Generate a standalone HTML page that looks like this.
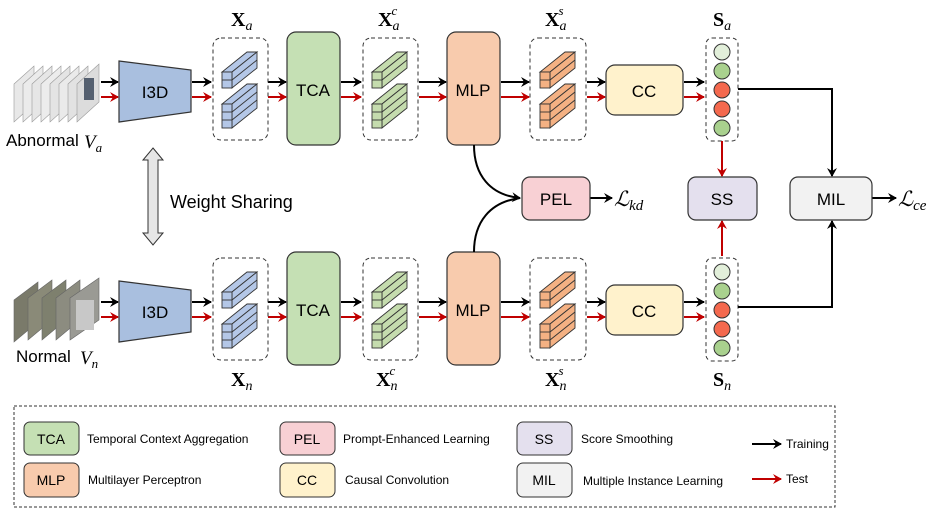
<!DOCTYPE html>
<html><head><meta charset="utf-8"><style>
html,body{margin:0;padding:0;background:#fff}
svg{display:block}
text{font-family:"Liberation Sans","DejaVu Sans",sans-serif}
.m{font-family:"Liberation Serif","DejaVu Serif",serif}
</style></head><body>
<svg width="940" height="515" viewBox="0 0 940 515" xmlns="http://www.w3.org/2000/svg">
<defs>
<marker id="ak" markerWidth="10" markerHeight="10" refX="8" refY="5" orient="auto" markerUnits="userSpaceOnUse"><path d="M0,0 L9,5 L0,10 L3,5 Z" fill="#000"/></marker>
<marker id="ar" markerWidth="10" markerHeight="10" refX="8" refY="5" orient="auto" markerUnits="userSpaceOnUse"><path d="M0,0 L9,5 L0,10 L3,5 Z" fill="#c00000"/></marker>
<g id="bS"><polygon points="0,0 10,0 35,-20 25,-20"/><polygon points="10,0 35,-20 35,-4 10,16"/><rect x="0" y="0" width="10" height="16"/><line x1="0" y1="8" x2="10" y2="8"/><line x1="10" y1="8" x2="35" y2="-12"/></g>
<g id="bL"><polygon points="0,0 10,0 35,-20 25,-20"/><polygon points="10,0 35,-20 35,4 10,24"/><rect x="0" y="0" width="10" height="24"/><line x1="0" y1="8" x2="10" y2="8"/><line x1="0" y1="16" x2="10" y2="16"/><line x1="10" y1="8" x2="35" y2="-12"/><line x1="10" y1="16" x2="35" y2="-4"/></g>
<g id="pair"><use href="#bS" x="0" y="0"/><use href="#bL" x="0" y="32"/></g>
</defs>

<g stroke="#999" stroke-width="0.6">
<polygon points="14,84 34,66 34,104 14,122" fill="#e8e8e8"/>
<polygon points="23,84 43,66 43,104 23,122" fill="#ebebeb"/>
<polygon points="32,84 52,66 52,104 32,122" fill="#e6e6e6"/>
<polygon points="41,84 61,66 61,104 41,122" fill="#ececec"/>
<polygon points="50,84 70,66 70,104 50,122" fill="#e4e4e4"/>
<polygon points="59,84 79,66 79,104 59,122" fill="#eaeaea"/>
<polygon points="68,84 88,66 88,104 68,122" fill="#e2e2e2"/>
<polygon points="77,84 99,64 99,102 77,122" fill="#dcdcdc"/>
<rect x="84" y="78" width="10" height="22" fill="#556070" stroke="none"/>
</g>
<g stroke="#666" stroke-width="0.6">
<polygon points="14,300 38,282 38,322 14,342" fill="#7a7a6a"/>
<polygon points="28,298 52,280 52,320 28,340" fill="#8a8a78"/>
<polygon points="42,298 66,280 66,320 42,340" fill="#7e806e"/>
<polygon points="56,298 80,280 80,320 56,340" fill="#8c8c80"/>
<polygon points="70,298 99,278 99,320 70,340" fill="#9a9a94"/>
<rect x="76" y="300" width="18" height="30" fill="#c8c8c8" stroke="none"/>
</g>
<text x="6" y="146" font-size="17">Abnormal</text><text x="84" y="148" font-size="19" font-style="italic" class="m">V<tspan font-size="13" dy="4">a</tspan></text>
<text x="16" y="362" font-size="17">Normal</text><text x="80" y="364" font-size="19" font-style="italic" class="m">V<tspan font-size="13" dy="4">n</tspan></text>

<polygon points="153,148 163,160 158,160 158,233 163,233 153,245 143,233 148,233 148,160 143,160" fill="#e6e6e6" stroke="#333" stroke-width="1"/>
<text x="170" y="208" font-size="18">Weight Sharing</text>

<g id="row">
<g stroke-width="2" fill="none">
<line x1="101" y1="82" x2="118" y2="82" stroke="#000" marker-end="url(#ak)"/>
<line x1="101" y1="97" x2="118" y2="97" stroke="#c00000" marker-end="url(#ar)"/>
<line x1="192" y1="82" x2="211" y2="82" stroke="#000" marker-end="url(#ak)"/>
<line x1="192" y1="97" x2="211" y2="97" stroke="#c00000" marker-end="url(#ar)"/>
<line x1="268" y1="82" x2="286" y2="82" stroke="#000" marker-end="url(#ak)"/>
<line x1="268" y1="97" x2="286" y2="97" stroke="#c00000" marker-end="url(#ar)"/>
<line x1="341" y1="82" x2="361" y2="82" stroke="#000" marker-end="url(#ak)"/>
<line x1="341" y1="97" x2="361" y2="97" stroke="#c00000" marker-end="url(#ar)"/>
<line x1="419" y1="82" x2="446" y2="82" stroke="#000" marker-end="url(#ak)"/>
<line x1="419" y1="97" x2="446" y2="97" stroke="#c00000" marker-end="url(#ar)"/>
<line x1="501" y1="82" x2="529" y2="82" stroke="#000" marker-end="url(#ak)"/>
<line x1="501" y1="97" x2="529" y2="97" stroke="#c00000" marker-end="url(#ar)"/>
<line x1="587" y1="82" x2="605" y2="82" stroke="#000" marker-end="url(#ak)"/>
<line x1="587" y1="97" x2="605" y2="97" stroke="#c00000" marker-end="url(#ar)"/>
<line x1="684" y1="82" x2="704" y2="82" stroke="#000" marker-end="url(#ak)"/>
<line x1="684" y1="97" x2="704" y2="97" stroke="#c00000" marker-end="url(#ar)"/>
</g>
<polygon points="119,61 191,70 191,112 119,122" fill="#a9bfdf" stroke="#333" stroke-width="1.2"/>
<text x="155" y="98" font-size="17" text-anchor="middle">I3D</text>
<rect x="213" y="38" width="55" height="102" rx="8" fill="none" stroke="#333" stroke-dasharray="4,3"/>
<g fill="#b4c7e7" stroke="#333" stroke-width="0.9"><use href="#pair" x="222" y="72"/></g>
<rect x="287" y="32" width="53" height="113" rx="9" fill="#c5e0b4" stroke="#333" stroke-width="1.2"/>
<text x="313" y="96" font-size="17" text-anchor="middle">TCA</text>
<rect x="363" y="38" width="55" height="102" rx="8" fill="none" stroke="#333" stroke-dasharray="4,3"/>
<g fill="#c5dcae" stroke="#333" stroke-width="0.9"><use href="#pair" x="372" y="72"/></g>
<rect x="447" y="32" width="53" height="113" rx="9" fill="#f8cbad" stroke="#333" stroke-width="1.2"/>
<text x="473" y="96" font-size="17" text-anchor="middle">MLP</text>
<rect x="530" y="38" width="56" height="102" rx="8" fill="none" stroke="#333" stroke-dasharray="4,3"/>
<g fill="#f4b183" stroke="#333" stroke-width="0.9"><use href="#pair" x="540" y="72"/></g>
<rect x="606" y="65" width="77" height="50" rx="9" fill="#fff2cc" stroke="#333" stroke-width="1.2"/>
<text x="644" y="97" font-size="17" text-anchor="middle">CC</text>
<rect x="706" y="38" width="32" height="103" rx="6" fill="none" stroke="#333" stroke-dasharray="4,3"/>
<g stroke="#333" stroke-width="1">
<circle cx="722" cy="52" r="8" fill="#e2efda"/>
<circle cx="722" cy="71" r="8" fill="#a9d18e"/>
<circle cx="722" cy="90" r="8" fill="#f4694e"/>
<circle cx="722" cy="109" r="8" fill="#f4694e"/>
<circle cx="722" cy="128" r="8" fill="#a9d18e"/>
</g>
</g>
<use href="#row" x="0" y="220"/>

<g class="m" font-size="20" font-weight="bold">
<text x="231" y="26" class="m">X<tspan font-size="14" font-style="italic" font-weight="normal" dy="4">a</tspan></text>
<text x="378" y="26" class="m">X<tspan font-size="14" font-style="italic" font-weight="normal" dy="4">a</tspan><tspan font-size="13" font-style="italic" font-weight="normal" dx="-8" dy="-15">c</tspan></text>
<text x="545" y="26" class="m">X<tspan font-size="14" font-style="italic" font-weight="normal" dy="4">a</tspan><tspan font-size="13" font-style="italic" font-weight="normal" dx="-8" dy="-15">s</tspan></text>
<text x="713" y="26" class="m">S<tspan font-size="14" font-style="italic" font-weight="normal" dy="4">a</tspan></text>
<text x="231" y="386" class="m">X<tspan font-size="14" font-style="italic" font-weight="normal" dy="4">n</tspan></text>
<text x="376" y="386" class="m">X<tspan font-size="14" font-style="italic" font-weight="normal" dy="4">n</tspan><tspan font-size="13" font-style="italic" font-weight="normal" dx="-8" dy="-15">c</tspan></text>
<text x="545" y="386" class="m">X<tspan font-size="14" font-style="italic" font-weight="normal" dy="4">n</tspan><tspan font-size="13" font-style="italic" font-weight="normal" dx="-8" dy="-15">s</tspan></text>
<text x="713" y="386" class="m">S<tspan font-size="14" font-style="italic" font-weight="normal" dy="4">n</tspan></text>
</g>

<g fill="none" stroke-width="2">
<path d="M474,145 C474,175 490,195 520,198" stroke="#000" marker-end="url(#ak)"/>
<path d="M474,252 C474,222 490,202 520,198" stroke="#000"/>
<line x1="590" y1="198" x2="612" y2="198" stroke="#000" marker-end="url(#ak)"/>
<line x1="722" y1="141" x2="722" y2="176" stroke="#c00000" marker-end="url(#ar)"/>
<line x1="722" y1="256" x2="722" y2="221" stroke="#c00000" marker-end="url(#ar)"/>
<polyline points="738,89 832,89 832,176" stroke="#000" marker-end="url(#ak)"/>
<polyline points="738,307 832,307 832,221" stroke="#000" marker-end="url(#ak)"/>
<line x1="872" y1="198" x2="896" y2="198" stroke="#000" marker-end="url(#ak)"/>
</g>
<rect x="522" y="177" width="68" height="43" rx="8" fill="#f8d0d4" stroke="#333" stroke-width="1.2"/>
<text x="556" y="205" font-size="17" text-anchor="middle">PEL</text>
<rect x="688" y="177" width="69" height="43" rx="8" fill="#e4e0ee" stroke="#333" stroke-width="1.2"/>
<text x="722" y="205" font-size="17" text-anchor="middle">SS</text>
<rect x="790" y="177" width="82" height="43" rx="8" fill="#f2f2f2" stroke="#333" stroke-width="1.2"/>
<text x="831" y="205" font-size="17" text-anchor="middle">MIL</text>
<text x="614" y="206" font-size="21" font-style="italic" class="m">ℒ<tspan font-size="15" dy="4">kd</tspan></text>
<text x="898" y="206" font-size="21" font-style="italic" class="m">ℒ<tspan font-size="15" dy="4">ce</tspan></text>

<rect x="14" y="406" width="821" height="101" fill="none" stroke="#333" stroke-dasharray="3,2"/>
<g stroke="#333" stroke-width="1">
<rect x="24" y="422" width="55" height="33" rx="6" fill="#c5e0b4"/>
<rect x="24" y="463" width="55" height="34" rx="6" fill="#f8cbad"/>
<rect x="280" y="422" width="55" height="33" rx="6" fill="#f8d0d4"/>
<rect x="280" y="463" width="55" height="34" rx="6" fill="#fff2cc"/>
<rect x="517" y="422" width="55" height="33" rx="6" fill="#e4e0ee"/>
<rect x="517" y="463" width="55" height="34" rx="6" fill="#f2f2f2"/>
</g>
<g font-size="14" text-anchor="middle">
<text x="51" y="444">TCA</text><text x="51" y="485">MLP</text>
<text x="307" y="444">PEL</text><text x="307" y="485">CC</text>
<text x="544" y="444">SS</text><text x="544" y="485">MIL</text>
</g>
<g font-size="12">
<text x="87" y="443">Temporal Context Aggregation</text>
<text x="88" y="484">Multilayer Perceptron</text>
<text x="343" y="443">Prompt-Enhanced Learning</text>
<text x="345" y="484">Causal Convolution</text>
<text x="581" y="443">Score Smoothing</text>
<text x="583" y="485">Multiple Instance Learning</text>
<text x="786" y="448">Training</text>
<text x="786" y="483">Test</text>
</g>
<line x1="752" y1="444" x2="781" y2="444" stroke="#000" stroke-width="2" marker-end="url(#ak)"/>
<line x1="752" y1="479" x2="781" y2="479" stroke="#c00000" stroke-width="2" marker-end="url(#ar)"/>
</svg>
</body></html>
